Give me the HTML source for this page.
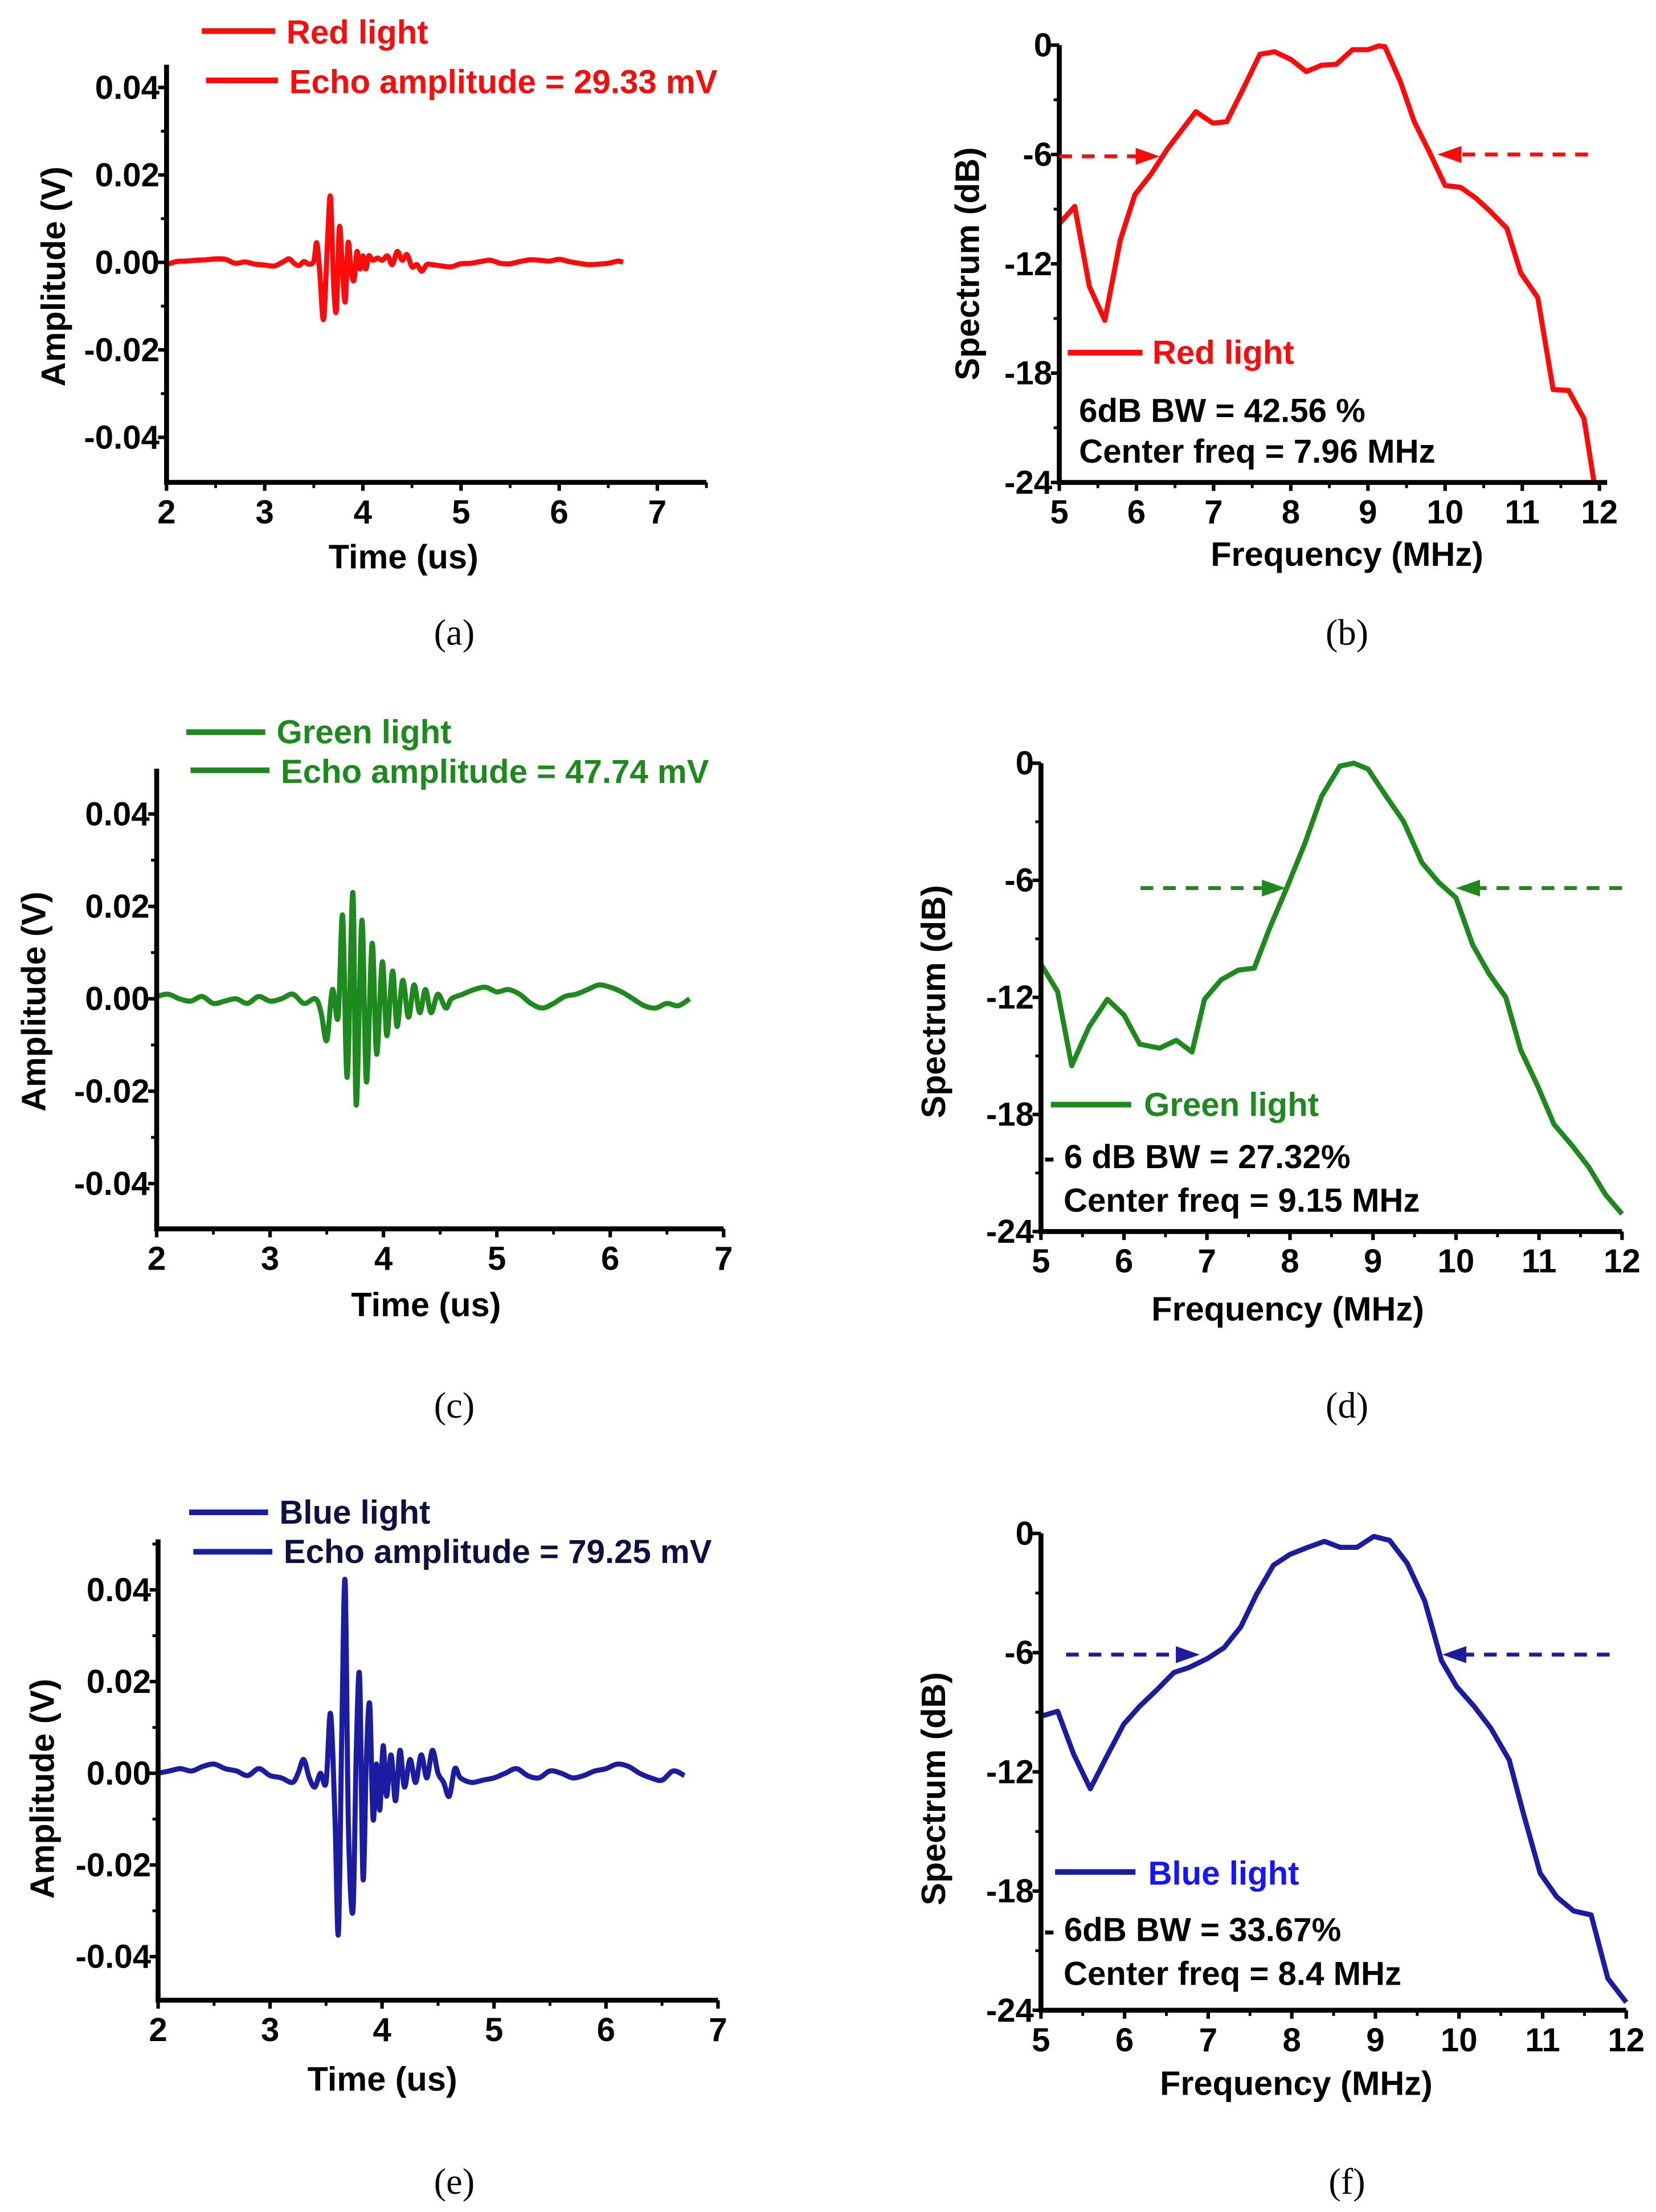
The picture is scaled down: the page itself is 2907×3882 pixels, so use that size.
<!DOCTYPE html>
<html><head><meta charset="utf-8"><style>
html,body{margin:0;padding:0;background:#fff;}
svg{display:block;}
text{font-family:"Liberation Sans",Arial,sans-serif;font-weight:bold;}
.cap{font-family:"Liberation Serif",serif;font-weight:normal;}
</style></head><body>
<svg id="fig" width="2907" height="3882" viewBox="0 0 1174 1568" xmlns="http://www.w3.org/2000/svg"></svg>
<script>
// ---------- data ----------
const redT=[2.0,2.1,2.2,2.3,2.4,2.5,2.6,2.7,2.8,2.9,3.0,3.1,3.2,3.25,3.3,3.35,3.4,3.45,3.5,3.53,3.56,3.6,3.64,3.67,3.7,3.73,3.76,3.79,3.82,3.85,3.88,3.91,3.94,3.97,4.0,4.03,4.06,4.1,4.15,4.2,4.25,4.3,4.35,4.4,4.45,4.5,4.55,4.6,4.65,4.7,4.8,4.9,5.0,5.1,5.2,5.3,5.4,5.5,5.6,5.7,5.8,5.9,6.0,6.1,6.2,6.3,6.4,6.5,6.6,6.65];
const redV=[-0.5,0.2,0.3,0.5,0.6,0.8,0.7,-0.2,0.1,-0.4,-0.6,-0.8,0.3,0.8,-0.2,-0.7,0.2,-0.4,0.3,4.5,-2,-13,5,15,-4,-11,8,-0.5,-9,4.5,-2,-4,2.5,-1.5,1.5,-1.5,1.5,0.5,1,0.5,1.5,-0.5,2.5,0.5,1.8,-1,-0.5,-2,-0.5,-0.5,-0.8,-1,-0.3,-0.2,0.2,0.5,-0.2,-0.3,0.2,0.6,0.5,0.3,0.7,0.2,-0.2,-0.5,-0.4,-0.2,0.3,0];
const greenT=[2.0,2.1,2.2,2.3,2.4,2.5,2.6,2.7,2.8,2.9,3.0,3.1,3.2,3.3,3.4,3.45,3.5,3.55,3.6,3.64,3.68,3.73,3.76,3.81,3.85,3.9,3.94,3.99,4.03,4.08,4.12,4.17,4.22,4.27,4.32,4.37,4.42,4.48,4.55,4.6,4.7,4.8,4.9,5.0,5.1,5.2,5.3,5.4,5.5,5.6,5.7,5.8,5.9,6.0,6.1,6.2,6.3,6.4,6.5,6.6,6.7];
const greenV=[0.5,1,0,-0.5,0.5,-1,-0.5,0,-1,0.5,-0.5,0,1,-1,0,-3,-9,2,-4,18,-17,23,-23,17,-18,12,-12,8,-8,6,-6,4,-4,3,-3,2,-3,1,-2,0,1,2,2.5,1.5,2,1,-1,-2,-1,0.5,1,2,3,2.5,1.5,0,-1.5,-2,-1,-1.5,0];
const blueT=[2.0,2.1,2.2,2.3,2.4,2.5,2.6,2.7,2.8,2.9,3.0,3.1,3.2,3.25,3.3,3.35,3.4,3.45,3.5,3.54,3.58,3.61,3.64,3.67,3.7,3.74,3.77,3.8,3.83,3.86,3.89,3.92,3.95,3.98,4.01,4.04,4.08,4.12,4.16,4.2,4.25,4.3,4.35,4.4,4.45,4.5,4.55,4.6,4.65,4.7,4.8,4.9,5.0,5.1,5.2,5.3,5.4,5.5,5.6,5.7,5.8,5.9,6.0,6.1,6.2,6.3,6.4,6.5,6.6,6.7];
const blueV=[0,0.5,1,0.5,1.5,2,1,0.5,-0.5,1,-0.5,-1,-2,0,3,-1,-3,0,-2,13,-10,-35,8,42,-12,-30,5,21,-23,3,15,-10,2,-8,6,-5,4,-6,5,-3,3,-2,4,-1,5,0,-2,-5,1,-1,-2,-1.5,-1,0,1,-0.5,-1,0.5,0,-1,-0.5,0.5,1,2,1.5,0,-1,-1.5,0.5,-0.5];
const redF=[5,5.2,5.39,5.59,5.79,5.98,6.19,6.4,6.77,6.99,7.17,7.4,7.6,7.79,8.0,8.2,8.4,8.59,8.8,9.0,9.14,9.22,9.42,9.6,9.8,10.0,10.2,10.4,10.58,10.8,10.98,11.2,11.4,11.6,11.8,11.93];
const redDB=[-9.8,-8.85,-13.25,-15.1,-10.7,-8.2,-7.07,-5.7,-3.65,-4.28,-4.2,-2.25,-0.5,-0.36,-0.78,-1.45,-1.1,-1.05,-0.25,-0.25,-0.04,-0.08,-2.0,-4.2,-5.9,-7.7,-7.8,-8.4,-9.1,-10.05,-12.5,-13.85,-18.9,-18.95,-20.5,-24];
const greenF=[5,5.2,5.37,5.58,5.8,6.0,6.19,6.43,6.63,6.82,6.97,7.17,7.38,7.57,7.75,7.96,8.18,8.38,8.6,8.77,8.94,9.16,9.37,9.59,9.79,10.0,10.2,10.4,10.6,10.78,10.98,11.18,11.4,11.6,11.8,12];
const greenDB=[-10.3,-11.7,-15.5,-13.5,-12.1,-12.9,-14.4,-14.6,-14.2,-14.8,-12.1,-11.1,-10.6,-10.5,-8.5,-6.4,-4.1,-1.7,-0.15,0,-0.3,-1.7,-3.0,-5.1,-6.1,-6.9,-9.3,-10.8,-12.0,-14.7,-16.5,-18.5,-19.6,-20.7,-22.1,-23.1];
const blueF=[5,5.2,5.39,5.59,5.79,5.99,6.18,6.38,6.59,6.77,6.99,7.19,7.39,7.58,7.78,7.98,8.19,8.39,8.58,8.78,8.98,9.17,9.38,9.59,9.79,9.97,10.18,10.38,10.6,10.77,10.97,11.17,11.37,11.58,11.78,12];
const blueDB=[-9.2,-8.95,-11.1,-12.85,-11.2,-9.6,-8.7,-7.9,-7.0,-6.75,-6.3,-5.75,-4.7,-3.05,-1.6,-1.05,-0.7,-0.4,-0.7,-0.7,-0.15,-0.35,-1.5,-3.4,-6.4,-7.7,-8.7,-9.8,-11.4,-14.1,-17.1,-18.3,-19.0,-19.2,-22.4,-23.6];
const timeTicks=["2","3","4","5","6","7"];
const ampTicks=["-0.04","-0.02","0.00","0.02","0.04"];
const freqTicks=["5","6","7","8","9","10","11","12"];
const dbTicks=["-24","-18","-12","-6","0"];

// ---------- drawing ----------
const NS="http://www.w3.org/2000/svg";
const svg=document.getElementById('fig');
function el(tag,attrs,parent){const e=document.createElementNS(NS,tag);for(const k in attrs)e.setAttribute(k,attrs[k]);(parent||svg).appendChild(e);return e;}
function lin(d0,p0,d1,p1){return v=>p0+(v-d0)*(p1-p0)/(d1-d0);}
function smoothPath(pts){let d='M'+pts[0][0].toFixed(2)+','+pts[0][1].toFixed(2);
 for(let i=0;i<pts.length-1;i++){const p0=pts[Math.max(0,i-1)],p1=pts[i],p2=pts[i+1],p3=pts[Math.min(pts.length-1,i+2)];
  const c1x=p1[0]+(p2[0]-p0[0])/6,c1y=p1[1]+(p2[1]-p0[1])/6,c2x=p2[0]-(p3[0]-p1[0])/6,c2y=p2[1]-(p3[1]-p1[1])/6;
  d+=` C${c1x.toFixed(2)},${c1y.toFixed(2)} ${c2x.toFixed(2)},${c2y.toFixed(2)} ${p2[0].toFixed(2)},${p2[1].toFixed(2)}`;}
 return d;}

function panel(cfg){
 const g=el('g',{});
 
 
 const X=lin(cfg.xa[0],cfg.xa[1],cfg.xb[0],cfg.xb[1]);
 const Y=lin(cfg.ya[0],cfg.ya[1],cfg.yb[0],cfg.yb[1]);
 const xL=X(cfg.xmin),xR=X(cfg.xmax),yT=Y(cfg.ymax),yB=Y(cfg.ymin);
 const pts=cfg.xs.map((x,i)=>[X(x),Y(cfg.ys[i])]);
 const p=el('path',{d:cfg.smooth?smoothPath(pts):'M'+pts.map(q=>q[0].toFixed(2)+','+q[1].toFixed(2)).join(' L'),fill:'none',stroke:cfg.color,'stroke-width':3.6,'stroke-linejoin':'round'},g);
 
 
 const ax=el('path',{d:`M${xL},${yT} L${xL},${yB} L${xR},${yB}`,fill:'none',stroke:'#000','stroke-width':3.5},g);
 
 
 cfg.xticks.forEach(t=>{const v=parseFloat(t),px=X(v);
  el('line',{x1:px,y1:yB,x2:px,y2:yB+6,stroke:'#000','stroke-width':2.5},g);
  const tx=el('text',{x:px,y:yB+29,'font-size':23.5,'text-anchor':'middle'},g);tx.textContent=t;
  
  
  const mv=v+cfg.xstep/2; if(mv<cfg.xmax+0.01) el('line',{x1:X(mv),y1:yB,x2:X(mv),y2:yB+4,stroke:'#000','stroke-width':2},g);
 });
 cfg.yticks.forEach(t=>{const v=parseFloat(t)*cfg.yfac,py=Y(v);
  el('line',{x1:xL-6,y1:py,x2:xL,y2:py,stroke:'#000','stroke-width':2.5},g);
  const tx=el('text',{x:xL-5,y:py+8,'font-size':23.5,'text-anchor':'end'},g);tx.textContent=t;
  
  
  const mv=v+cfg.ystep/2; if(mv<cfg.ymax) el('line',{x1:xL-4,y1:Y(mv),x2:xL,y2:Y(mv),stroke:'#000','stroke-width':2},g);
 });
 const xt=el('text',{x:cfg.xtitle[1],y:cfg.xtitle[2],'font-size':24,'text-anchor':'middle'},g);xt.textContent=cfg.xtitle[0];
 
 
 const yt=el('text',{x:0,y:0,'font-size':24,'text-anchor':'middle',transform:`translate(${cfg.ytitle[1]},${cfg.ytitle[2]}) rotate(-90)`},g);yt.textContent=cfg.ytitle[0];
 
 
 (cfg.arrows||[]).forEach(a=>{const y=Y(a[2]),x1=X(a[0]),x2=X(a[1]);const dir=Math.sign(x2-x1);
  const l=el('line',{x1:x1,y1:y,x2:x2-dir*12,y2:y,stroke:cfg.color,'stroke-width':2.8,'stroke-dasharray':'9,7'},g);
  
  
  el('path',{d:`M${x2},${y} L${x2-dir*17},${y-6} L${x2-dir*17},${y+6} Z`,fill:cfg.color},g);
 });
 (cfg.legend||[]).forEach(L=>{
  if(L.line){const ln=el('line',{x1:L.line[0],y1:L.line[2],x2:L.line[1],y2:L.line[2],stroke:cfg.color,'stroke-width':4},g);
   
   }
  const t=el('text',{x:L.x,y:L.y,'font-size':23.5,fill:L.fill},g);t.textContent=L.text;
  
  
 });
 const c=el('text',{x:cfg.cap[1],y:cfg.cap[2],'font-size':26,'text-anchor':'middle',class:'cap'},g);c.textContent=cfg.cap[0];
 
 
}
const RED='#ff0a0a',GREEN='#1e8a1e',BLUE='#1c1ca0';
panel({name:'panel-a',xs:redT,ys:redV,smooth:true,color:RED,xa:[2,118],xb:[7,466],ya:[0,186],yb:[40,62],xmin:2,xmax:7.5,ymin:-50.3,ymax:45.2,
 xticks:timeTicks,xstep:1,yticks:ampTicks,yfac:1000,ystep:20,xtitle:['Time (us)',286,403],ytitle:['Amplitude (V)',46,196],
 legend:[{line:[143,195,22],x:203,y:31,text:'Red light',fill:RED},{line:[146,197,57],x:205,y:66,text:'Echo amplitude = 29.33 mV',fill:RED}],cap:['(a)',322,457]});
panel({name:'panel-b',xs:redF,ys:redDB,color:RED,xa:[5,751],xb:[12,1134],ya:[0,32],yb:[-24,342],xmin:5,xmax:12.1,ymin:-24,ymax:0,
 xticks:freqTicks,xstep:1,yticks:dbTicks,yfac:1,ystep:6,xtitle:['Frequency (MHz)',955,401],ytitle:['Spectrum (dB)',694,187],
 arrows:[[5,6.3,-6.1],[11.85,9.9,-6.0]],
 legend:[{line:[757,810,250],x:817,y:258,text:'Red light',fill:RED},{x:765,y:299,text:'6dB BW = 42.56 %',fill:'#000'},{x:765,y:328,text:'Center freq = 7.96 MHz',fill:'#000'}],cap:['(b)',955,457]});
panel({name:'panel-c',xs:greenT,ys:greenV,smooth:true,color:GREEN,xa:[2,111],xb:[7,513],ya:[0,708],yb:[40,577],xmin:2,xmax:7,ymin:-49.8,ymax:49.8,
 xticks:timeTicks,xstep:1,yticks:ampTicks,yfac:1000,ystep:20,xtitle:['Time (us)',302,933],ytitle:['Amplitude (V)',32,710],
 legend:[{line:[132,188,519],x:196,y:527,text:'Green light',fill:GREEN},{line:[135,191,546],x:199,y:555,text:'Echo amplitude = 47.74 mV',fill:GREEN}],cap:['(c)',322,1005]});
panel({name:'panel-d',xs:greenF,ys:greenDB,color:GREEN,xa:[5,738],xb:[12,1150],ya:[0,541],yb:[-24,873],xmin:5,xmax:12,ymin:-24,ymax:0,
 xticks:freqTicks,xstep:1,yticks:dbTicks,yfac:1,ystep:6,xtitle:['Frequency (MHz)',913,936],ytitle:['Spectrum (dB)',670,710],
 arrows:[[6.2,7.95,-6.4],[12,10.0,-6.4]],
 legend:[{line:[745,802,783],x:811,y:791,text:'Green light',fill:GREEN},{x:740,y:828,text:'- 6 dB BW = 27.32%',fill:'#000'},{x:754,y:859,text:'Center freq = 9.15 MHz',fill:'#000'}],cap:['(d)',955,1005]});
panel({name:'panel-e',xs:blueT,ys:blueV,smooth:true,color:BLUE,xa:[2,112],xb:[7,509],ya:[0,1257],yb:[40,1127],xmin:2,xmax:7,ymin:-49.5,ymax:51,
 xticks:timeTicks,xstep:1,yticks:ampTicks,yfac:1000,ystep:20,xtitle:['Time (us)',271,1482],ytitle:['Amplitude (V)',38,1268],
 legend:[{line:[134,190,1072],x:198,y:1080,text:'Blue light',fill:'#101040'},{line:[137,193,1100],x:201,y:1108,text:'Echo amplitude = 79.25 mV',fill:'#101040'}],cap:['(e)',322,1555]});
panel({name:'panel-f',xs:blueF,ys:blueDB,color:BLUE,xa:[5,738],xb:[12,1153],ya:[0,1087],yb:[-24,1425],xmin:5,xmax:12,ymin:-24,ymax:0,
 xticks:freqTicks,xstep:1,yticks:dbTicks,yfac:1,ystep:6,xtitle:['Frequency (MHz)',919,1485],ytitle:['Spectrum (dB)',670,1268],
 arrows:[[5.3,6.9,-6.1],[11.8,9.8,-6.1]],
 legend:[{line:[748,805,1327],x:814,y:1336,text:'Blue light',fill:'#1515ff'},{x:740,y:1376,text:'- 6dB BW = 33.67%',fill:'#000'},{x:754,y:1407,text:'Center freq = 8.4 MHz',fill:'#000'}],cap:['(f)',955,1555]});
</script>
</body></html>
